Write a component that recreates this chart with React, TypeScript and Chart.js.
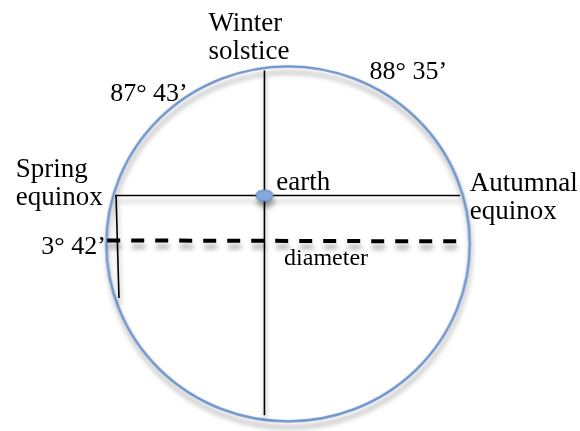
import React, { useEffect, useRef } from "react";
import { Chart, registerables } from "chart.js";

Chart.register(...registerables);

// Diagram coordinates (x to the right, y downward), in diagram units
const orbitCenter = { x: 288, y: 244.5 };
const orbitRadii = { rx: 181.7, ry: 177.5 };
const earthPos = { x: 264, y: 195 };

const solsticeLine = [{ x: 264, y: 67 }, { x: 264, y: 420 }];
const equinoxLine = [{ x: 112, y: 195 }, { x: 463, y: 195 }];
const offsetLine = [{ x: 113, y: 195 }, { x: 116, y: 300 }];
const diameterLine = [{ x: 104, y: 241 }, { x: 470, y: 242 }];

const labelTexts = [
  "Winter", "solstice", "87° 43’", "88° 35’", "Spring", "equinox",
  "earth", "Autumnal", "equinox", "3° 42’", "diameter",
];
const labelX = [207, 207, 107, 371, 11, 11, 276, 473, 473, 37, 284];
const labelY = [27, 55, 98, 76, 176, 205, 189, 190, 219, 255, 266];
const labelSizes = [27, 27, 26, 26, 27, 27, 27, 27, 27, 26, 24];

function makeEllipse(rx: number, ry: number, stroke: string, fill: string, lw: number) {
  const c = document.createElement("canvas");
  const w = Math.ceil(rx * 2 + lw * 2 + 2);
  const h = Math.ceil(ry * 2 + lw * 2 + 2);
  c.width = w;
  c.height = h;
  const ctx = c.getContext("2d")!;
  ctx.beginPath();
  ctx.ellipse(w / 2, h / 2, rx, ry, 0, 0, Math.PI * 2);
  if (fill !== "none") {
    ctx.fillStyle = fill;
    ctx.fill();
  }
  ctx.lineWidth = lw;
  ctx.strokeStyle = stroke;
  ctx.stroke();
  return c;
}

const shadowPlugin = {
  id: "shadow",
  beforeDatasetDraw(chart: any) {
    const ctx = chart.ctx;
    ctx.save();
    ctx.shadowColor = "rgba(0,0,0,0.35)";
    ctx.shadowBlur = 5;
    ctx.shadowOffsetX = 1;
    ctx.shadowOffsetY = 6;
  },
  afterDatasetDraw(chart: any) {
    chart.ctx.restore();
  },
};

const labelPlugin = {
  id: "labels",
  afterDraw(chart: any) {
    const ctx = chart.ctx;
    const xs = chart.scales.x;
    const ys = chart.scales.y;
    ctx.save();
    ctx.fillStyle = "#000";
    ctx.textBaseline = "alphabetic";
    ctx.textAlign = "left";
    labelTexts.forEach((t, i) => {
      ctx.font = `${labelSizes[i]}px "Liberation Serif", serif`;
      ctx.fillText(t, xs.getPixelForValue(labelX[i]), ys.getPixelForValue(labelY[i]));
    });
    ctx.restore();
  },
};

export default function App() {
  const ref = useRef<HTMLCanvasElement | null>(null);
  useEffect(() => {
    if (!ref.current) return;
    const orbitImg = makeEllipse(orbitRadii.rx, orbitRadii.ry, "#7095cc", "none", 2.5);
    const earthImg = makeEllipse(8.5, 5.5, "#5d86c4", "#86a9dc", 1.2);
    const lineDs = (data: any[], extra: any = {}) => ({
      type: "line" as const,
      data,
      borderColor: "#000",
      borderWidth: 1.6,
      pointRadius: 0,
      showLine: true,
      fill: false,
      clip: false,
      ...extra,
    });
    const chart = new Chart(ref.current, {
      type: "scatter",
      data: {
        datasets: [
          {
            data: [orbitCenter],
            pointStyle: orbitImg as any,
            pointRadius: 1,
            clip: false,
            order: 5,
          } as any,
          lineDs(solsticeLine, { order: 4 }),
          lineDs(equinoxLine, { order: 4 }),
          lineDs(offsetLine, { order: 4 }),
          lineDs(diameterLine, { borderWidth: 4, borderDash: [13, 11], order: 3 }),
          {
            data: [earthPos],
            pointStyle: earthImg as any,
            pointRadius: 1,
            clip: false,
            order: 1,
          } as any,
        ],
      },
      options: {
        animation: false,
        responsive: false,
        maintainAspectRatio: false,
        layout: { padding: 0 },
        events: [],
        plugins: { legend: { display: false }, tooltip: { enabled: false } },
        scales: {
          x: { type: "linear", min: 0, max: 580, display: false },
          y: { type: "linear", min: 0, max: 431, reverse: true, display: false },
        },
      },
      plugins: [shadowPlugin, labelPlugin],
    });
    return () => chart.destroy();
  }, []);
  return (
    <div style={{ position: "absolute", left: 0, top: 0, width: 580, height: 431, background: "#fff" }}>
      <canvas ref={ref} width={580} height={431} style={{ width: 580, height: 431, display: "block" }} />
    </div>
  );
}
